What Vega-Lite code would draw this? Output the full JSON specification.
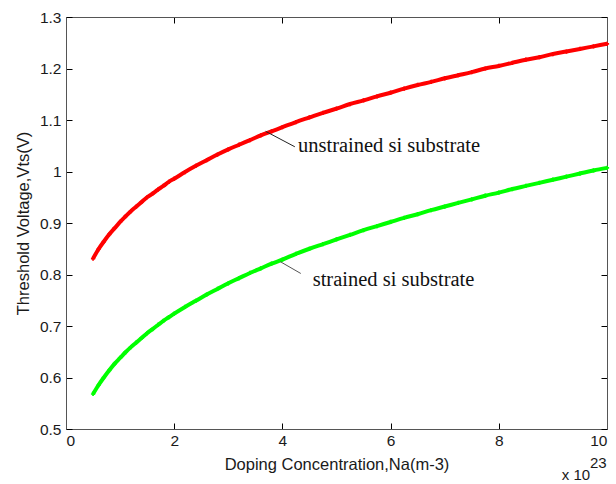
{
  "$schema": "https://vega.github.io/schema/vega-lite/v6.json",
  "width": 541,
  "height": 412,
  "autosize": {"type": "none"},
  "padding": {"left": 66, "top": 17, "right": 9, "bottom": 55},
  "background": "white",
  "config": {
    "view": {"stroke": null},
    "axis": {
      "grid": false,
      "domainColor": "#555",
      "domainWidth": 1,
      "tickColor": "#000",
      "tickSize": -6,
      "labelFont": "Liberation Sans",
      "labelFontSize": 15.5,
      "labelColor": "#1a1a1a",
      "titleFont": "Liberation Sans",
      "titleFontSize": 16.5,
      "titleFontWeight": "normal",
      "titleColor": "#1a1a1a"
    }
  },
  "datasets": {
    "curves": [
      {"x": 0.5, "vt": 0.831, "s": "unstrained"}, {"x": 0.6, "vt": 0.849, "s": "unstrained"}, {"x": 0.7, "vt": 0.864, "s": "unstrained"}, {"x": 0.8, "vt": 0.878, "s": "unstrained"}, {"x": 0.9, "vt": 0.890, "s": "unstrained"}, {"x": 1.0, "vt": 0.902, "s": "unstrained"}, {"x": 1.1, "vt": 0.913, "s": "unstrained"}, {"x": 1.2, "vt": 0.923, "s": "unstrained"}, {"x": 1.3, "vt": 0.932, "s": "unstrained"}, {"x": 1.4, "vt": 0.941, "s": "unstrained"}, {"x": 1.5, "vt": 0.950, "s": "unstrained"}, {"x": 1.6, "vt": 0.957, "s": "unstrained"}, {"x": 1.7, "vt": 0.965, "s": "unstrained"}, {"x": 1.8, "vt": 0.972, "s": "unstrained"}, {"x": 1.9, "vt": 0.980, "s": "unstrained"}, {"x": 2.0, "vt": 0.986, "s": "unstrained"}, {"x": 2.2, "vt": 0.999, "s": "unstrained"}, {"x": 2.4, "vt": 1.011, "s": "unstrained"}, {"x": 2.6, "vt": 1.022, "s": "unstrained"}, {"x": 2.8, "vt": 1.033, "s": "unstrained"}, {"x": 3.0, "vt": 1.043, "s": "unstrained"}, {"x": 3.2, "vt": 1.052, "s": "unstrained"}, {"x": 3.4, "vt": 1.061, "s": "unstrained"}, {"x": 3.6, "vt": 1.070, "s": "unstrained"}, {"x": 3.8, "vt": 1.078, "s": "unstrained"}, {"x": 4.0, "vt": 1.086, "s": "unstrained"}, {"x": 4.25, "vt": 1.096, "s": "unstrained"}, {"x": 4.5, "vt": 1.105, "s": "unstrained"}, {"x": 4.75, "vt": 1.114, "s": "unstrained"}, {"x": 5.0, "vt": 1.122, "s": "unstrained"}, {"x": 5.25, "vt": 1.131, "s": "unstrained"}, {"x": 5.5, "vt": 1.138, "s": "unstrained"}, {"x": 5.75, "vt": 1.146, "s": "unstrained"}, {"x": 6.0, "vt": 1.153, "s": "unstrained"}, {"x": 6.25, "vt": 1.161, "s": "unstrained"}, {"x": 6.5, "vt": 1.168, "s": "unstrained"}, {"x": 6.75, "vt": 1.174, "s": "unstrained"}, {"x": 7.0, "vt": 1.181, "s": "unstrained"}, {"x": 7.25, "vt": 1.187, "s": "unstrained"}, {"x": 7.5, "vt": 1.193, "s": "unstrained"}, {"x": 7.75, "vt": 1.200, "s": "unstrained"}, {"x": 8.0, "vt": 1.205, "s": "unstrained"}, {"x": 8.25, "vt": 1.211, "s": "unstrained"}, {"x": 8.5, "vt": 1.217, "s": "unstrained"}, {"x": 8.75, "vt": 1.222, "s": "unstrained"}, {"x": 9.0, "vt": 1.228, "s": "unstrained"}, {"x": 9.25, "vt": 1.233, "s": "unstrained"}, {"x": 9.5, "vt": 1.238, "s": "unstrained"}, {"x": 9.75, "vt": 1.243, "s": "unstrained"}, {"x": 10.0, "vt": 1.248, "s": "unstrained"},
      {"x": 0.5, "vt": 0.568, "s": "strained"}, {"x": 0.6, "vt": 0.585, "s": "strained"}, {"x": 0.7, "vt": 0.600, "s": "strained"}, {"x": 0.8, "vt": 0.614, "s": "strained"}, {"x": 0.9, "vt": 0.627, "s": "strained"}, {"x": 1.0, "vt": 0.638, "s": "strained"}, {"x": 1.1, "vt": 0.649, "s": "strained"}, {"x": 1.2, "vt": 0.659, "s": "strained"}, {"x": 1.3, "vt": 0.668, "s": "strained"}, {"x": 1.4, "vt": 0.677, "s": "strained"}, {"x": 1.5, "vt": 0.686, "s": "strained"}, {"x": 1.6, "vt": 0.694, "s": "strained"}, {"x": 1.7, "vt": 0.702, "s": "strained"}, {"x": 1.8, "vt": 0.710, "s": "strained"}, {"x": 1.9, "vt": 0.717, "s": "strained"}, {"x": 2.0, "vt": 0.724, "s": "strained"}, {"x": 2.2, "vt": 0.737, "s": "strained"}, {"x": 2.4, "vt": 0.749, "s": "strained"}, {"x": 2.6, "vt": 0.761, "s": "strained"}, {"x": 2.8, "vt": 0.772, "s": "strained"}, {"x": 3.0, "vt": 0.783, "s": "strained"}, {"x": 3.2, "vt": 0.793, "s": "strained"}, {"x": 3.4, "vt": 0.803, "s": "strained"}, {"x": 3.6, "vt": 0.812, "s": "strained"}, {"x": 3.8, "vt": 0.821, "s": "strained"}, {"x": 4.0, "vt": 0.829, "s": "strained"}, {"x": 4.25, "vt": 0.840, "s": "strained"}, {"x": 4.5, "vt": 0.850, "s": "strained"}, {"x": 4.75, "vt": 0.859, "s": "strained"}, {"x": 5.0, "vt": 0.868, "s": "strained"}, {"x": 5.25, "vt": 0.877, "s": "strained"}, {"x": 5.5, "vt": 0.886, "s": "strained"}, {"x": 5.75, "vt": 0.894, "s": "strained"}, {"x": 6.0, "vt": 0.902, "s": "strained"}, {"x": 6.25, "vt": 0.910, "s": "strained"}, {"x": 6.5, "vt": 0.917, "s": "strained"}, {"x": 6.75, "vt": 0.925, "s": "strained"}, {"x": 7.0, "vt": 0.932, "s": "strained"}, {"x": 7.25, "vt": 0.939, "s": "strained"}, {"x": 7.5, "vt": 0.946, "s": "strained"}, {"x": 7.75, "vt": 0.953, "s": "strained"}, {"x": 8.0, "vt": 0.959, "s": "strained"}, {"x": 8.25, "vt": 0.966, "s": "strained"}, {"x": 8.5, "vt": 0.972, "s": "strained"}, {"x": 8.75, "vt": 0.978, "s": "strained"}, {"x": 9.0, "vt": 0.984, "s": "strained"}, {"x": 9.25, "vt": 0.990, "s": "strained"}, {"x": 9.5, "vt": 0.996, "s": "strained"}, {"x": 9.75, "vt": 1.002, "s": "strained"}, {"x": 10.0, "vt": 1.007, "s": "strained"}
    ],
    "leaders": [
      {"s": "unstrained", "x": 3.69, "y": 1.078, "x2": 4.23, "y2": 1.048},
      {"s": "strained", "x": 3.96, "y": 0.825, "x2": 4.34, "y2": 0.802}
    ],
    "labels": [
      {"x": 4.288, "y": 1.038, "t": "unstrained si substrate"},
      {"x": 4.56, "y": 0.778, "t": "strained si substrate"}
    ],
    "exponent": [
      {"x": 9.163, "y": 0.401, "t": "x 10"},
      {"x": 9.686, "y": 0.424, "t": "23"}
    ]
  },
  "layer": [
    {
      "data": {"name": "curves"},
      "mark": {"type": "line", "strokeWidth": 4, "interpolate": "monotone"},
      "encoding": {
        "x": {"field": "x", "type": "quantitative", "scale": {"domain": [0, 10], "nice": false},
              "axis": {"orient": "bottom", "values": [0, 2, 4, 6, 8, 10], "title": "Doping Concentration,Na(m-3)", "labelPadding": 10, "titlePadding": 8}},
        "y": {"field": "vt", "type": "quantitative", "scale": {"domain": [0.5, 1.3], "nice": false, "zero": false},
              "axis": {"orient": "left", "values": [0.5, 0.6, 0.7, 0.8, 0.9, 1, 1.1, 1.2, 1.3], "format": ".1~f", "title": "Threshold Voltage,Vts(V)", "labelPadding": 11, "titlePadding": 8}},
        "color": {"field": "s", "type": "nominal", "scale": {"domain": ["unstrained", "strained"], "range": ["#ff0000", "#00ff00"]}, "legend": null},
        "detail": {"field": "s"}
      }
    },
    {
      "data": {"name": "curves"},
      "mark": {"type": "point", "shape": "cross", "filled": true, "size": 18, "opacity": 1},
      "encoding": {
        "x": {"field": "x", "type": "quantitative", "axis": null},
        "y": {"field": "vt", "type": "quantitative", "axis": null},
        "color": {"field": "s", "type": "nominal", "legend": null}
      }
    },
    {
      "data": {"name": "leaders"},
      "transform": [{"filter": "datum.s == 'unstrained'"}],
      "mark": {"type": "rule", "color": "#222", "strokeWidth": 1},
      "encoding": {
        "x": {"field": "x", "type": "quantitative",
              "axis": {"orient": "top", "values": [0, 2, 4, 6, 8, 10], "labels": false, "title": null}},
        "y": {"field": "y", "type": "quantitative",
              "axis": {"orient": "right", "values": [0.5, 0.6, 0.7, 0.8, 0.9, 1, 1.1, 1.2, 1.3], "labels": false, "title": null}},
        "x2": {"field": "x2"},
        "y2": {"field": "y2"}
      }
    },
    {
      "data": {"name": "leaders"},
      "transform": [{"filter": "datum.s == 'strained'"}],
      "mark": {"type": "rule", "color": "#555", "strokeWidth": 1},
      "encoding": {
        "x": {"field": "x", "type": "quantitative", "axis": null},
        "y": {"field": "y", "type": "quantitative", "axis": null},
        "x2": {"field": "x2"},
        "y2": {"field": "y2"}
      }
    },
    {
      "data": {"name": "labels"},
      "mark": {"type": "text", "font": "Liberation Serif", "fontSize": 20.5, "align": "left", "baseline": "alphabetic", "color": "#111"},
      "encoding": {
        "x": {"field": "x", "type": "quantitative", "axis": null},
        "y": {"field": "y", "type": "quantitative", "axis": null},
        "text": {"field": "t"}
      }
    },
    {
      "data": {"name": "exponent"},
      "mark": {"type": "text", "font": "Liberation Sans", "fontSize": 15, "align": "left", "baseline": "alphabetic", "color": "#1a1a1a"},
      "encoding": {
        "x": {"field": "x", "type": "quantitative", "axis": null},
        "y": {"field": "y", "type": "quantitative", "axis": null},
        "text": {"field": "t"}
      }
    }
  ]
}
